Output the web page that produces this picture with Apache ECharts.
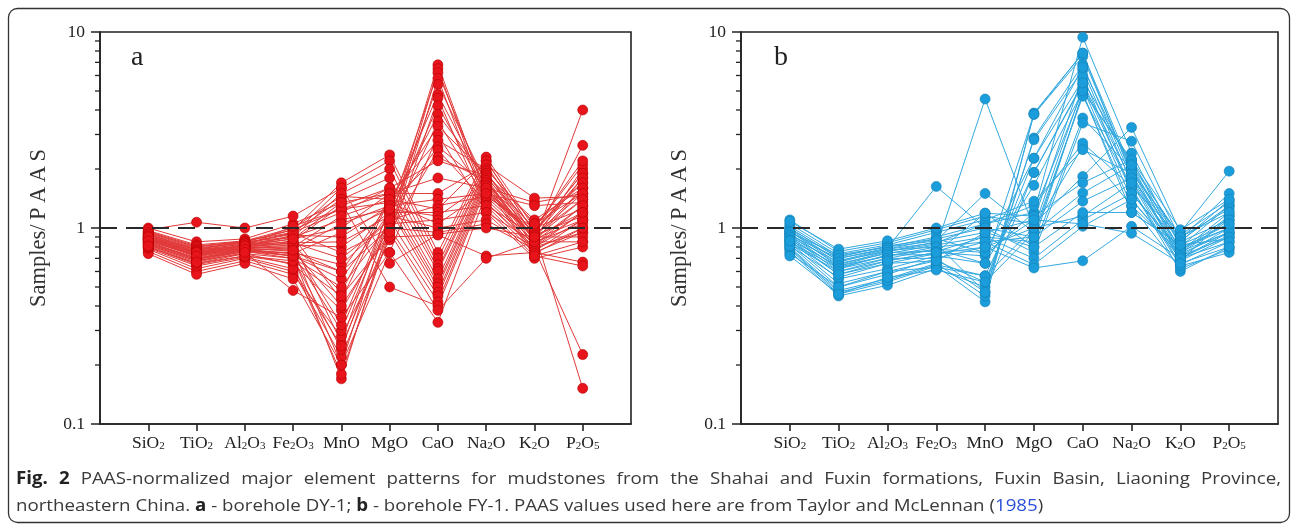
<!DOCTYPE html>
<html>
<head>
<meta charset="utf-8">
<script src="https://cdn.jsdelivr.net/npm/echarts@6/dist/echarts.min.js"></script>
<style>
html,body{margin:0;padding:0;background:#fff;}
#chart{width:1292px;height:527px;}
</style>
</head>
<body>
<div id="chart"></div>
<script>
// ---- categories & tick labels ----
const categories = ['SiO2','TiO2','Al2O3','Fe2O3','MnO','MgO','CaO','Na2O','K2O','P2O5'];
const categoryLabels = ['SiO{s|2}','TiO{s|2}','Al{s|2}O{s|3}','Fe{s|2}O{s|3}','MnO','MgO','CaO','Na{s|2}O','K{s|2}O','P{s|2}O{s|5}'];
const yTicks = [0.1, 1, 10];
const yTickLabels = ['0.1', '1', '10'];
const referenceLevel = 1;

// ---- Panel a: borehole DY-1 (Samples/PAAS), order as categories ----
const dy1HighCa = [
  [0.85,0.70,0.78,0.72,0.17,1.05,6.8,1.45,0.85,1.30],
  [0.80,0.66,0.74,0.65,0.18,0.95,6.5,1.35,0.80,1.10],
  [0.88,0.72,0.80,0.78,0.20,1.20,6.2,1.55,0.90,1.60],
  [0.78,0.62,0.70,0.60,0.22,0.90,5.8,1.30,0.75,0.95],
  [0.82,0.68,0.76,0.70,0.24,1.10,5.4,1.70,0.95,1.80],
  [0.90,0.75,0.82,0.85,0.26,1.30,4.8,1.60,0.88,2.00],
  [0.76,0.60,0.68,0.58,0.28,0.87,4.6,1.25,0.72,0.85],
  [0.84,0.70,0.78,0.74,0.30,1.15,4.2,1.50,0.92,1.40],
  [0.86,0.73,0.80,0.80,0.32,1.25,3.8,1.80,1.00,2.10],
  [0.80,0.65,0.72,0.66,0.38,1.00,3.5,1.40,0.82,1.20],
  [0.92,0.78,0.85,0.90,0.43,1.40,3.3,1.90,0.98,1.70],
  [0.74,0.58,0.66,0.55,0.20,0.75,3.0,1.20,0.70,0.80],
  [0.88,0.74,0.82,0.82,0.47,1.45,2.8,2.00,1.05,1.50],
  [0.83,0.69,0.77,0.72,0.55,1.20,2.6,1.65,0.90,2.64],
  [0.79,0.64,0.71,0.62,0.25,0.95,2.5,1.35,0.78,1.00],
  [0.87,0.71,0.79,0.76,0.60,1.35,2.3,1.75,0.86,4.00]
];
const dy1MidCa = [
  [0.95,0.80,0.86,0.95,1.20,1.60,2.20,1.85,1.10,1.60],
  [0.90,0.76,0.82,0.88,1.00,1.50,1.80,1.60,1.35,1.50],
  [1.00,0.85,0.88,1.05,1.35,1.50,1.50,2.10,1.42,1.45],
  [0.93,0.78,0.80,0.92,0.90,1.30,1.40,1.50,1.30,1.35],
  [0.85,0.70,0.76,0.75,0.65,1.10,1.30,1.45,1.00,1.25],
  [0.97,0.82,0.86,1.00,1.45,1.40,1.25,2.20,0.95,1.90],
  [0.88,0.74,0.79,0.82,0.80,1.20,1.20,1.30,0.92,1.15],
  [0.91,0.77,0.83,0.90,1.10,1.25,1.15,1.70,0.88,1.10],
  [0.82,0.68,0.74,0.70,0.50,1.05,1.10,1.20,0.85,1.05],
  [0.96,0.81,0.85,0.98,1.25,1.35,1.05,1.55,0.95,0.152],
  [0.89,0.75,0.80,0.84,0.85,1.15,1.00,1.10,0.80,0.95],
  [0.94,0.79,0.84,0.94,0.75,1.00,0.95,1.05,0.78,0.226],
  [0.98,1.07,1.00,1.15,1.60,0.66,0.93,1.00,0.90,0.90],
  [0.80,0.66,0.72,0.68,0.45,0.90,0.92,0.72,0.75,0.67]
];
const dy1LowCa = [
  [0.95,0.80,0.85,0.98,1.70,2.36,0.75,2.30,1.00,2.20],
  [0.92,0.78,0.84,0.93,1.60,2.20,0.70,2.20,0.95,1.90],
  [0.90,0.75,0.82,0.90,1.50,2.00,0.65,2.10,0.90,1.80],
  [0.93,0.77,0.83,0.95,1.40,1.80,0.62,2.00,1.05,1.70],
  [0.89,0.74,0.80,0.86,1.30,1.60,0.60,1.95,0.85,1.60],
  [0.91,0.76,0.81,1.02,1.25,1.50,0.55,1.90,0.92,1.50],
  [0.87,0.73,0.79,0.80,1.15,1.40,0.52,1.85,0.88,1.40],
  [0.86,0.72,0.78,0.78,1.05,1.30,0.50,1.80,0.82,1.30],
  [0.84,0.70,0.77,0.74,0.95,1.25,0.47,1.75,0.80,1.20],
  [0.88,0.73,0.80,0.84,0.70,1.10,0.45,1.70,0.76,1.10],
  [0.83,0.69,0.76,0.72,0.60,1.00,0.42,1.65,0.74,1.00],
  [0.90,0.75,0.81,0.88,1.35,0.50,0.40,1.60,0.72,0.64],
  [0.86,0.72,0.78,0.77,0.40,0.95,0.38,0.70,0.85,0.85],
  [0.81,0.67,0.75,0.48,0.35,0.75,0.33,1.50,0.90,1.20]
];

// ---- Panel b: borehole FY-1 ----
const fy1HighCa = [
  [0.78,0.46,0.53,0.64,0.42,3.86,7.8,2.00,0.68,0.90],
  [0.80,0.48,0.55,0.66,0.45,3.80,7.5,1.90,0.70,0.95],
  [0.82,0.50,0.58,0.70,0.47,2.88,6.8,1.80,0.72,1.00],
  [0.76,0.45,0.51,0.62,0.50,2.82,6.4,1.70,0.65,0.85],
  [0.84,0.52,0.60,0.68,0.53,2.27,5.7,2.10,0.74,1.10],
  [0.79,0.47,0.54,0.65,0.57,1.92,5.4,1.60,0.60,0.80],
  [0.86,0.55,0.62,0.72,0.66,1.65,5.0,2.23,0.76,1.20],
  [0.90,0.60,0.68,0.75,0.72,1.20,9.4,2.41,0.80,1.30],
  [0.92,0.62,0.70,0.78,0.75,1.10,6.0,1.50,0.78,1.05],
  [0.88,0.58,0.66,0.74,0.80,1.00,5.2,1.40,0.70,0.92],
  [0.94,0.64,0.72,0.80,0.85,0.90,4.8,1.30,0.75,1.15],
  [0.96,0.66,0.74,0.82,0.90,0.85,4.9,1.20,0.82,0.88],
  [0.74,0.50,0.60,0.63,0.57,1.00,2.60,1.30,0.62,0.78],
  [0.72,0.46,0.56,0.61,0.53,0.95,4.70,1.60,0.64,0.75],
  [0.96,0.68,0.78,0.84,1.05,1.20,5.00,2.20,0.86,1.30],
  [0.99,0.71,0.81,0.88,0.75,2.27,6.6,2.00,0.78,1.00],
  [0.89,0.63,0.72,0.78,0.66,3.80,7.8,1.85,0.74,0.95],
  [0.93,0.65,0.76,0.83,0.47,1.92,5.5,1.75,0.68,1.15]
];
const fy1LowCa = [
  [0.98,0.68,0.76,0.85,0.95,0.80,3.64,2.00,0.85,1.39],
  [1.00,0.70,0.78,0.88,1.00,0.75,3.43,2.77,0.88,1.50],
  [1.02,0.72,0.80,0.90,1.05,1.30,2.71,1.63,0.90,1.25],
  [1.05,0.74,0.82,0.95,1.10,1.37,2.51,1.90,0.92,1.35],
  [1.10,0.76,0.84,0.98,1.15,1.05,1.83,3.26,0.95,1.95],
  [1.08,0.78,0.86,1.00,1.19,1.15,1.70,2.23,0.98,1.40],
  [0.95,0.73,0.80,0.86,1.50,0.95,1.51,2.10,0.90,1.20],
  [0.92,0.70,0.79,1.63,1.00,0.90,1.37,1.80,0.85,1.10],
  [0.90,0.67,0.77,0.80,4.55,1.00,1.15,1.70,0.80,1.00],
  [0.87,0.64,0.75,0.76,0.90,0.70,1.10,1.50,0.76,0.95],
  [0.85,0.62,0.73,0.73,0.85,0.65,1.02,1.40,0.72,0.90],
  [0.83,0.60,0.70,0.70,0.80,0.625,0.68,1.02,0.70,0.85],
  [0.81,0.56,0.66,0.68,0.95,1.10,1.05,0.94,0.66,0.80],
  [0.86,0.58,0.68,0.75,1.19,0.80,1.20,1.20,0.82,1.05]
];

const panelASamples = dy1HighCa.concat(dy1MidCa, dy1LowCa);
const panelBSamples = fy1HighCa.concat(fy1LowCa);

// ---- styles ----
const SERIF = '"Liberation Serif","Times New Roman",serif';
const INK = '#222';
const RED = '#e8141c', RED_LINE = '#e23a3a', RED_EDGE = '#b30000';
const BLUE = '#1b9ddb', BLUE_LINE = '#34a9e0', BLUE_EDGE = '#137fb4';

const GRIDS = [
  {left: 100, top: 32, width: 531, height: 392},
  {left: 741, top: 32, width: 537, height: 392}
];

function xAxisFor(i) {
  return {
    type: 'category', gridIndex: i, boundaryGap: false,
    data: [''].concat(categories, ['']),
    axisLine: {show: true, lineStyle: {color: INK, width: 1.6}},
    axisTick: {show: true, inside: false, length: 7, lineStyle: {color: INK, width: 1.6},
      interval: function (idx) { return idx >= 1 && idx <= categories.length; }},
    axisLabel: {
      interval: 0, margin: 10, color: INK, fontFamily: SERIF, fontSize: 17.5,
      lineHeight: 18, verticalAlign: 'top',
      formatter: function (v, idx) { return (idx >= 1 && idx <= categories.length) ? categoryLabels[idx - 1] : ''; },
      rich: {s: {fontSize: 11, fontFamily: SERIF, color: INK, lineHeight: 4, verticalAlign: 'bottom'}}
    },
    splitLine: {show: false}
  };
}
function yAxisFor(i) {
  return {
    type: 'log', logBase: 10, gridIndex: i, min: 0.1, max: 10, interval: 1,
    name: 'Samples/\u2009P\u2009A\u2009A\u2009S', nameLocation: 'middle', nameGap: 49, nameRotate: 90,
    nameTextStyle: {fontFamily: SERIF, fontSize: 22.5, color: '#333'},
    axisLine: {show: true, lineStyle: {color: INK, width: 1.6}},
    axisTick: {show: true, inside: false, length: 9, lineStyle: {color: INK, width: 1.5}},
    axisLabel: {color: INK, fontFamily: SERIF, fontSize: 17.5, margin: 15,
      formatter: function (v) {
        let best = 0;
        yTicks.forEach(function (t, k) { if (Math.abs(Math.log10(t) - Math.log10(v)) < Math.abs(Math.log10(yTicks[best]) - Math.log10(v))) best = k; });
        return yTickLabels[best];
      }},
    splitLine: {show: false}
  };
}

function sampleSeries(rows, gi, color, lineColor, edge) {
  return rows.map(function (row) {
    return {
      type: 'line', xAxisIndex: gi, yAxisIndex: gi,
      data: row.map(function (v, k) { return [k + 1, v]; }),
      symbol: 'circle', symbolSize: 10, showSymbol: true,
      lineStyle: {color: lineColor, width: 1},
      itemStyle: {color: color, borderColor: edge, borderWidth: 0.6},
      emphasis: {disabled: true}, silent: true, animation: false, z: 2
    };
  });
}
function refSeries(gi) {
  return {
    type: 'line', xAxisIndex: gi, yAxisIndex: gi,
    data: [[0, referenceLevel], [categories.length + 1, referenceLevel]],
    symbol: 'none', lineStyle: {color: '#2a2a2a', width: 2.2, type: [17, 9]},
    silent: true, animation: false, z: 5
  };
}

const chart = echarts.init(document.getElementById('chart'), null, {renderer: 'canvas'});

// caption helpers (layout computed from font metrics)
const CAP_FONT = '"Open Sans", sans-serif';
const CAP_SIZE = 17;
const CAP_SX = 1.1;
const measureCtx = document.createElement('canvas').getContext('2d');
function textWidth(t, bold) {
  measureCtx.font = (bold ? 'bold ' : '') + CAP_SIZE + 'px ' + CAP_FONT;
  return measureCtx.measureText(t).width * CAP_SX;
}
function justifiedLine(words, x0, x1, y) {
  const widths = words.map(function (w) { return textWidth(w.t, w.b); });
  const total = widths.reduce(function (a, b) { return a + b; }, 0);
  const gap = (x1 - x0 - total) / (words.length - 1);
  let x = x0;
  return words.map(function (w, k) {
    const el = {type: 'text', x: x, y: y, scaleX: CAP_SX, silent: true,
      style: {text: w.t, fill: w.b ? '#222' : '#3a3a3a', font: (w.b ? 'bold ' : '') + CAP_SIZE + 'px ' + CAP_FONT, verticalAlign: 'middle'}};
    x += widths[k] + gap;
    return el;
  });
}

const line1 = 'PAAS-normalized major element patterns for mudstones from the Shahai and Fuxin formations, Fuxin Basin, Liaoning Province,'.split(' ');
const line1Words = [{t: 'Fig.', b: true}, {t: '2', b: true}].concat(line1.map(function (t) { return {t: t, b: false}; }));

const graphics = [
  {type: 'rect', shape: {x: 8.5, y: 8.5, width: 1281, height: 514, r: 9}, silent: true,
    style: {fill: 'none', stroke: '#333', lineWidth: 1.3}, z: -1},
  {type: 'text', x: 131, y: 58, silent: true, style: {text: 'a', font: '28px ' + SERIF, fill: '#222', verticalAlign: 'middle'}},
  {type: 'text', x: 774, y: 58, silent: true, style: {text: 'b', font: '28px ' + SERIF, fill: '#222', verticalAlign: 'middle'}},
  {type: 'text', x: 16, y: 506, scaleX: CAP_SX, silent: true,
    style: {
      text: 'northeastern China. {b|a} - borehole DY-1; {b|b} - borehole FY-1. PAAS values used here are from Taylor and McLennan ({l|1985})',
      font: CAP_SIZE + 'px ' + CAP_FONT, fill: '#3a3a3a', verticalAlign: 'middle',
      rich: {b: {fontWeight: 'bold', fontFamily: CAP_FONT, fontSize: CAP_SIZE, fill: '#222'},
             l: {fontFamily: CAP_FONT, fontSize: CAP_SIZE, fill: '#2b4fd8'}}
    }}
].concat(justifiedLine(line1Words, 16, 1281, 479));

chart.setOption({
  backgroundColor: '#ffffff',
  animation: false,
  grid: GRIDS.map(function (g) { return Object.assign({show: true, borderColor: INK, borderWidth: 1.6, backgroundColor: 'transparent'}, g); }),
  xAxis: [xAxisFor(0), xAxisFor(1)],
  yAxis: [yAxisFor(0), yAxisFor(1)],
  series: [].concat(
    sampleSeries(panelASamples, 0, RED, RED_LINE, RED_EDGE),
    sampleSeries(panelBSamples, 1, BLUE, BLUE_LINE, BLUE_EDGE),
    [refSeries(0), refSeries(1)]
  ),
  graphic: graphics
});

// minor log ticks (2..9 within each decade), positioned by the axis scale
const minor = [];
[0, 1].forEach(function (gi) {
  const xLeft = GRIDS[gi].left;
  for (let d = -1; d <= 0; d++) {
    for (let m = 2; m <= 9; m++) {
      const v = m * Math.pow(10, d);
      const py = chart.convertToPixel({yAxisIndex: gi}, v);
      minor.push({type: 'line', silent: true, shape: {x1: xLeft - 5, y1: py, x2: xLeft, y2: py},
        style: {stroke: INK, lineWidth: 1.3}});
    }
  }
});
chart.setOption({graphic: graphics.concat(minor)});
</script>
</body>
</html>
